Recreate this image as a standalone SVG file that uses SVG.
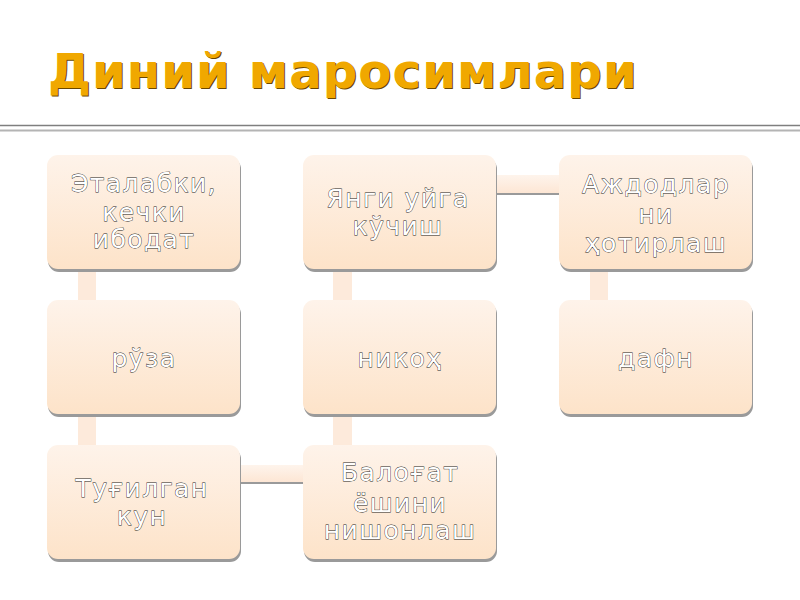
<svg xmlns="http://www.w3.org/2000/svg" width="800" height="600" viewBox="0 0 800 600">
<style>
.title{font-family:"DejaVu Sans",sans-serif;font-weight:bold;font-size:48px;letter-spacing:1.2px;}
.lbl{font-family:"DejaVu Sans",sans-serif;font-size:25px;fill:#ffffff;stroke:#1a1a1a;stroke-width:0.8;paint-order:stroke;text-anchor:middle;letter-spacing:1.4px;}
</style>
<defs>
<linearGradient id="ng" x1="0" y1="0" x2="0" y2="1">
<stop offset="0" stop-color="#FEF3EA"/>
<stop offset="1" stop-color="#FDE3C9"/>
</linearGradient>
<linearGradient id="hg" x1="0" y1="0" x2="0" y2="1">
<stop offset="0" stop-color="#FEF4EC"/>
<stop offset="1" stop-color="#FDE6D4"/>
</linearGradient>
<g id="box">
<rect x="1" y="3" width="193" height="114" rx="11" fill="#9a9a9a"/>
<rect x="0" y="0" width="193" height="114" rx="11" fill="url(#ng)"/>
</g>
</defs>
<rect width="800" height="600" fill="#ffffff"/>
<text class="title" x="49" y="89" fill="#6a4800">Диний маросимлари</text>
<text class="title" x="48" y="88" fill="#F0A800">Диний маросимлари</text>
<line x1="0" y1="125.5" x2="800" y2="125.5" stroke="#7f7f7f" stroke-width="1.5"/>
<line x1="0" y1="130.5" x2="800" y2="130.5" stroke="#b4b4b4" stroke-width="2"/>
<g id="connectors">
<rect x="78" y="268" width="18" height="34" fill="#FDEADB"/>
<rect x="78" y="413" width="18" height="34" fill="#FDEADB"/>
<rect x="333" y="268" width="19" height="34" fill="#FDEADB"/>
<rect x="333" y="413" width="19" height="34" fill="#FDEADB"/>
<rect x="590" y="268" width="18" height="34" fill="#FDEADB"/>
<rect x="495" y="175" width="66" height="18" fill="url(#hg)"/>
<rect x="495" y="193" width="66" height="2" fill="#9a9a9a"/>
<rect x="238" y="465" width="67" height="17" fill="url(#hg)"/>
<rect x="238" y="482" width="67" height="2" fill="#9a9a9a"/>
</g>
<g id="n1"><use href="#box" x="47" y="155"/>
<text class="lbl"><tspan x="144" y="192">Эталабки,</tspan><tspan x="144" y="221">кечки</tspan><tspan x="144" y="248">ибодат</tspan></text></g>
<g id="n2"><use href="#box" x="47" y="300"/>
<text class="lbl" x="144" y="367">рўза</text></g>
<g id="n3"><use href="#box" x="47" y="445"/>
<text class="lbl"><tspan x="142" y="497">Туғилган</tspan><tspan x="142" y="525">кун</tspan></text></g>
<g id="n4"><use href="#box" x="303" y="155"/>
<text class="lbl"><tspan x="398" y="207">Янги уйга</tspan><tspan x="398" y="235">кўчиш</tspan></text></g>
<g id="n5"><use href="#box" x="303" y="300"/>
<text class="lbl" x="400" y="367">никоҳ</text></g>
<g id="n6"><use href="#box" x="303" y="445"/>
<text class="lbl"><tspan x="400" y="481">Балоғат</tspan><tspan x="400" y="512">ёшини</tspan><tspan x="400" y="539">нишонлаш</tspan></text></g>
<g id="n7"><use href="#box" x="559" y="155"/>
<text class="lbl"><tspan x="656" y="193">Аждодлар</tspan><tspan x="656" y="223">ни</tspan><tspan x="656" y="252">ҳотирлаш</tspan></text></g>
<g id="n8"><use href="#box" x="559" y="300"/>
<text class="lbl" x="656" y="367">дафн</text></g>
</svg>
